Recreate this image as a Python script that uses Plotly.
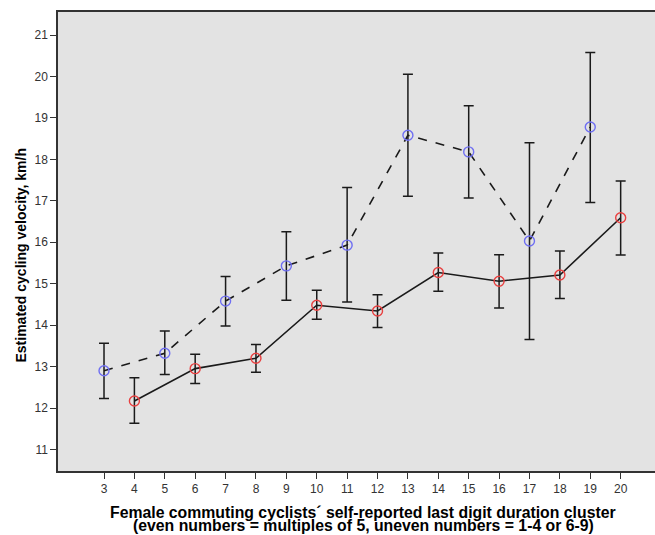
import plotly.graph_objects as go

# Blue (uneven clusters) series
x_uneven = [3, 5, 7, 9, 11, 13, 15, 17, 19]
y_uneven = [12.90, 13.32, 14.58, 15.43, 15.93, 18.58, 18.18, 16.03, 18.78]
up_uneven = [13.56, 13.86, 15.17, 16.25, 17.32, 20.05, 19.29, 18.40, 20.58]
lo_uneven = [12.23, 12.81, 13.98, 14.60, 14.56, 17.11, 17.07, 13.65, 16.96]

# Red (even clusters) series
x_even = [4, 6, 8, 10, 12, 14, 16, 18, 20]
y_even = [12.17, 12.95, 13.20, 14.48, 14.34, 15.27, 15.06, 15.21, 16.59]
up_even = [12.73, 13.30, 13.53, 14.84, 14.73, 15.74, 15.70, 15.79, 17.48]
lo_even = [11.63, 12.59, 12.86, 14.14, 13.94, 14.82, 14.41, 14.64, 15.69]

x_ticks = list(range(3, 21))
y_ticks = list(range(11, 22))

x_title_1 = "Female commuting cyclists´ self-reported last digit duration cluster"
x_title_2 = "(even numbers = multiples of 5, uneven numbers = 1-4 or 6-9)"
y_title = "Estimated cycling velocity, km/h"

FONT = "Liberation Sans, Arial, sans-serif"

fig = go.Figure()

def add_series(xs, ys, ups, los, color, dash):
    fig.add_trace(go.Scatter(
        x=xs, y=ys, mode="lines+markers",
        line=dict(color="#1a1a1a", width=1.6, dash=dash),
        marker=dict(symbol="circle-open", size=10, color=color, line=dict(width=1.4, color=color)),
        error_y=dict(type="data", symmetric=False,
                     array=[u - y for u, y in zip(ups, ys)],
                     arrayminus=[y - l for l, y in zip(los, ys)],
                     color="#1a1a1a", thickness=1.5, width=5),
        showlegend=False, hoverinfo="skip",
    ))

add_series(x_uneven, y_uneven, up_uneven, lo_uneven, "#6f6ff2", "dash")
add_series(x_even, y_even, up_even, lo_even, "#e84040", "solid")

fig.update_layout(
    width=655, height=535,
    margin=dict(l=58, r=0, t=12, b=64),
    paper_bgcolor="white", plot_bgcolor="#e3e3e3",
    font=dict(family=FONT, color="#333333", size=12),
    xaxis=dict(range=[1.486, 21.13], tickvals=x_ticks, ticktext=[str(v) for v in x_ticks],
               showgrid=False, zeroline=False, showline=True, linecolor="#333333", linewidth=1.5,
               mirror=True, ticks="outside", ticklen=6, tickwidth=1.3, tickcolor="#333333",
               tickfont=dict(size=12, color="#333333", family=FONT)),
    yaxis=dict(range=[10.48, 21.555], tickvals=y_ticks, ticktext=[str(v) for v in y_ticks],
               showgrid=False, zeroline=False, showline=True, linecolor="#333333", linewidth=1.5,
               ticks="outside", ticklen=6, tickwidth=1.3, tickcolor="#333333",
               tickfont=dict(size=12, color="#333333", family=FONT)),
    annotations=[
        dict(text="<b>" + y_title + "</b>", xref="paper", yref="paper", x=0, y=0.5,
             xanchor="center", yanchor="middle", xshift=-38, yshift=-14, textangle=-90, showarrow=False,
             font=dict(size=14, color="black", family=FONT)),
        dict(text="<b>" + x_title_1 + "</b>", xref="paper", yref="paper", x=0.511, y=0,
             xanchor="center", yanchor="middle", yshift=-41.5, showarrow=False,
             font=dict(size=15.8, color="black", family=FONT)),
        dict(text="<b>" + x_title_2 + "</b>", xref="paper", yref="paper", x=0.511, y=0,
             xanchor="center", yanchor="middle", yshift=-54.5, showarrow=False,
             font=dict(size=15.8, color="black", family=FONT)),
    ],
)

fig.write_html("out.html")
